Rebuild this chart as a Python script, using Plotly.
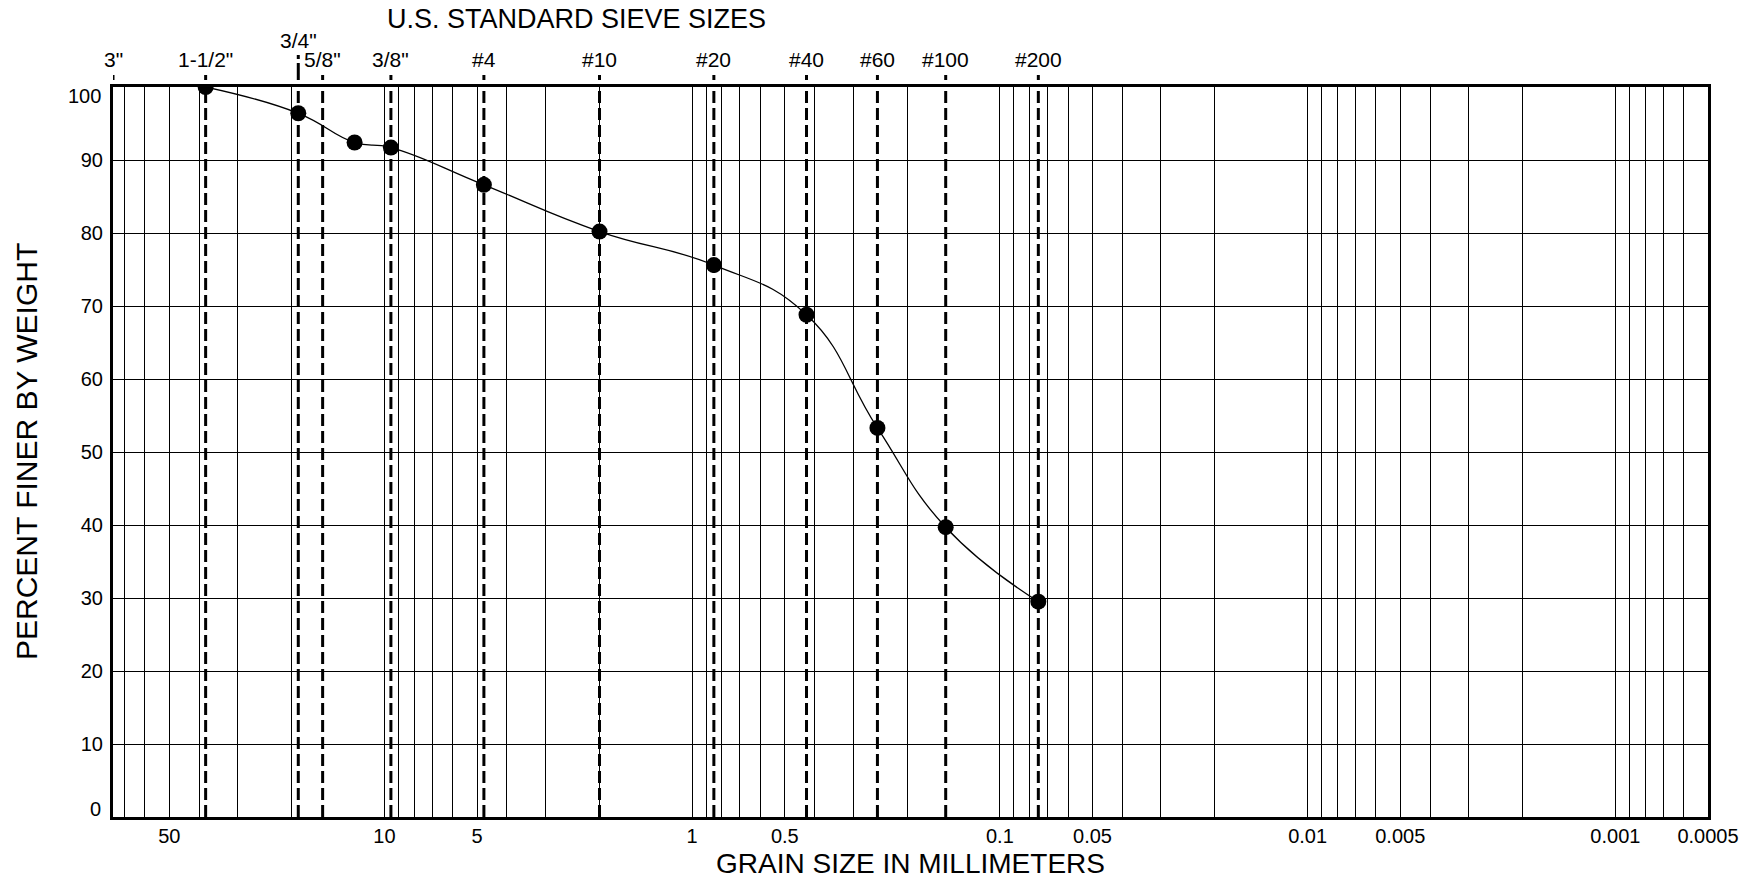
import math
import plotly.graph_objects as go

# ---------------- data ----------------
sieve_names = ['3"', '1-1/2"', '3/4"', '5/8"', '3/8"', '#4', '#10', '#20', '#40', '#60', '#100', '#200']
sieve_mm = [76.2, 38.1, 19.05, 15.875, 9.525, 4.75, 2.0, 0.85, 0.425, 0.25, 0.15, 0.075]

grain_mm = [38.1, 19.05, 12.5, 9.525, 4.75, 2.0, 0.85, 0.425, 0.25, 0.15, 0.075]
pct_finer = [100, 96.4, 92.4, 91.7, 86.6, 80.2, 75.6, 68.8, 53.3, 39.7, 29.5]

x_label_vals = [50, 10, 5, 1, 0.5, 0.1, 0.05, 0.01, 0.005, 0.001, 0.0005]
x_label_text = ['50', '10', '5', '1', '0.5', '0.1', '0.05', '0.01', '0.005', '0.001', '0.0005']
y_label_vals = [10, 20, 30, 40, 50, 60, 70, 80, 90]
y_edge_vals = [0, 100]

x_title = "GRAIN SIZE IN MILLIMETERS"
y_title = "PERCENT FINER BY WEIGHT"
top_title = "U.S. STANDARD SIEVE SIZES"

x_max_mm = 76.2
x_min_mm = 0.0005

FONT = "Liberation Sans, Arial, Helvetica, sans-serif"

# log grid positions (1..9 x 10^k) inside the axis range
grid_vals = []
for e in range(-4, 2):
    for m in range(1, 10):
        v = round(m * 10 ** e, 6)
        if x_min_mm - 1e-9 <= v <= x_max_mm:
            grid_vals.append(v)
label_map = dict(zip(x_label_vals, x_label_text))
grid_text = [label_map.get(v, "") for v in grid_vals]

fig = go.Figure()
fig.add_trace(go.Scatter(
    x=grain_mm, y=pct_finer, mode="lines+markers",
    line=dict(color="black", width=1.3, shape="spline", smoothing=1.3),
    marker=dict(color="black", size=16),
    showlegend=False, hoverinfo="x+y",
))

shapes = []
annotations = []
PX = 1 / 730.0
PXW = 1 / 1595.0
for name, mm in zip(sieve_names, sieve_mm):
    if mm < x_max_mm:
        # dashed line through the plot
        shapes.append(dict(type="line", xref="x", yref="paper", x0=mm, x1=mm, y0=0, y1=1,
                           line=dict(color="black", width=3, dash="12px,5px"), layer="above"))
    # small tick above the frame
    shapes.append(dict(type="line", xref="x", yref="paper", x0=mm, x1=mm,
                       y0=1 + 7 * PX, y1=1 + 12 * PX,
                       line=dict(color="black", width=3), layer="above"))
    raised = (name == '3/4"')
    if raised:
        shapes.append(dict(type="line", xref="x", yref="paper", x0=mm, x1=mm,
                           y0=1 + 12 * PX, y1=1 + 24 * PX,
                           line=dict(color="black", width=3), layer="above"))
        shapes.append(dict(type="line", xref="x", yref="paper", x0=mm, x1=mm,
                           y0=1 + 28 * PX, y1=1 + 32 * PX,
                           line=dict(color="black", width=3), layer="above"))
    annotations.append(dict(
        x=math.log10(mm), xref="x", y=1 + (47 if raised else 27) * PX, yref="paper",
        text=name, showarrow=False, xanchor="center", yanchor="middle",
        font=dict(family=FONT, size=21, color="black"),
    ))

annotations.append(dict(
    x=(576 - 113) * PXW, xref="paper", y=1 + 68 * PX, yref="paper",
    text=top_title, showarrow=False, xanchor="center", yanchor="middle",
    font=dict(family=FONT, size=27, color="black"),
))
annotations.append(dict(
    x=0.5, xref="paper", y=-47 * PX, yref="paper",
    text=x_title, showarrow=False, xanchor="center", yanchor="middle",
    font=dict(family=FONT, size=28, color="black"),
))
annotations.append(dict(
    x=-87 * PXW, xref="paper", y=0.5, yref="paper", textangle=-90,
    text=y_title, showarrow=False, xanchor="center", yanchor="middle",
    font=dict(family=FONT, size=30, color="black"),
))
for v, sh in zip(y_edge_vals, [8, -9]):
    annotations.append(dict(
        x=0, xref="paper", y=v, yref="y", text=str(v), showarrow=False,
        xanchor="right", yanchor="middle", xshift=-10, yshift=sh,
        font=dict(family=FONT, size=20, color="black"),
    ))

fig.update_layout(
    width=1760, height=879,
    margin=dict(l=113, r=52, t=87, b=62, pad=0, autoexpand=False),
    paper_bgcolor="white", plot_bgcolor="white",
    font=dict(family=FONT, color="black"),
    shapes=shapes, annotations=annotations,
    xaxis=dict(
        type="log", range=[math.log10(x_max_mm), math.log10(x_min_mm)],
        tickmode="array", tickvals=grid_vals, ticktext=grid_text,
        showgrid=True, gridcolor="black", gridwidth=1,
        showline=True, linecolor="black", linewidth=3, mirror=True,
        ticks="", zeroline=False, ticklabelstandoff=-1, automargin=False,
        tickfont=dict(family=FONT, size=20, color="black"),
    ),
    yaxis=dict(
        range=[0, 100], tickmode="array", tickvals=y_label_vals,
        ticktext=[str(v) for v in y_label_vals],
        showgrid=True, gridcolor="black", gridwidth=1,
        showline=True, linecolor="black", linewidth=3, mirror=True,
        ticks="", zeroline=False, ticklabelstandoff=3, automargin=False,
        tickfont=dict(family=FONT, size=20, color="black"),
    ),
)

fig.write_html("out.html", config={"displayModeBar": False},
               post_script="document.body.style.margin='0';document.body.style.overflow='hidden';")
